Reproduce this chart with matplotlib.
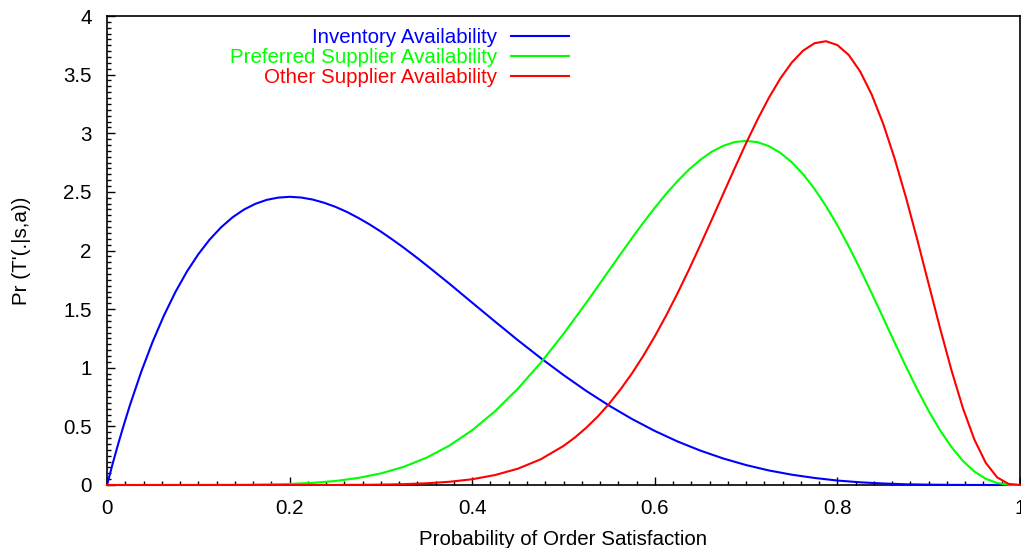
import matplotlib
matplotlib.use("Agg")
import matplotlib.pyplot as plt
from matplotlib.ticker import MultipleLocator, FormatStrFormatter

plt.rcParams['font.family'] = ['Liberation Sans', 'DejaVu Sans']

# inventory availability density
x_inventory = [0, 0.00625, 0.0125, 0.01875, 0.025,
               0.0375, 0.05, 0.0625, 0.075, 0.0875, 0.1, 0.1125, 0.125, 0.1375, 0.15,
               0.1625, 0.175, 0.1875, 0.2, 0.2125, 0.225, 0.2375, 0.25, 0.2625, 0.275,
               0.2875, 0.3, 0.3125, 0.325, 0.3375, 0.35,
               0.375, 0.4, 0.425, 0.45, 0.475, 0.5, 0.525, 0.55, 0.575, 0.6,
               0.625, 0.65, 0.675, 0.7, 0.725, 0.75, 0.775, 0.8, 0.825, 0.85,
               0.875, 0.9, 0.925, 0.95, 0.975, 1.0]
inventory = [0, 0.183, 0.357, 0.521, 0.678,
             0.966, 1.222, 1.448, 1.647, 1.820, 1.968, 2.094, 2.198, 2.283, 2.349,
             2.398, 2.432, 2.451, 2.458, 2.452, 2.435, 2.408, 2.373, 2.330, 2.279,
             2.223, 2.161, 2.094, 2.024, 1.950, 1.874,
             1.717, 1.555, 1.394, 1.235, 1.083, 0.938, 0.802, 0.677, 0.563, 0.461,
             0.371, 0.293, 0.226, 0.170, 0.124, 0.088, 0.060, 0.038, 0.023, 0.013,
             0.006, 0.003, 0.001, 0.0002, 0, 0]

# preferred supplier availability density
x_preferred = [0, 0.1, 0.15, 0.2,
               0.225, 0.25, 0.275, 0.3, 0.325, 0.35, 0.375, 0.4, 0.425, 0.45,
               0.475, 0.5, 0.525,
               0.5375, 0.55, 0.5625, 0.575, 0.5875, 0.6, 0.6125, 0.625, 0.6375, 0.65,
               0.6625, 0.675, 0.6875, 0.7, 0.7125, 0.725, 0.7375, 0.75, 0.7625, 0.775,
               0.7875, 0.8, 0.8125, 0.825, 0.8375, 0.85, 0.8625, 0.875, 0.8875, 0.9,
               0.9125, 0.925, 0.9375, 0.95, 0.9625, 0.975, 0.9875, 1.0]
preferred = [0, 0.0001, 0.0014, 0.0087,
             0.018, 0.034, 0.060, 0.099, 0.155, 0.233, 0.336, 0.467, 0.629, 0.821,
             1.042, 1.289, 1.555,
             1.693, 1.831, 1.970, 2.106, 2.238, 2.365, 2.484, 2.593, 2.691, 2.774,
             2.843, 2.893, 2.925, 2.935, 2.924, 2.890, 2.833, 2.753, 2.650, 2.525,
             2.379, 2.215, 2.034, 1.840, 1.637, 1.428, 1.218, 1.012, 0.815, 0.631,
             0.466, 0.323, 0.205, 0.115, 0.053, 0.017, 0.002, 0]

# other supplier availability density
x_other = [0, 0.25, 0.275, 0.3, 0.325, 0.35, 0.375, 0.4, 0.425, 0.45, 0.475, 0.5,
           0.5125, 0.525, 0.5375, 0.55, 0.5625, 0.575, 0.5875, 0.6, 0.6125, 0.625,
           0.6375, 0.65, 0.6625, 0.675, 0.6875, 0.7, 0.7125, 0.725, 0.7375, 0.75,
           0.7625, 0.775, 0.7875, 0.8, 0.8125, 0.825, 0.8375, 0.85, 0.8625, 0.875,
           0.8875, 0.9, 0.9125, 0.925, 0.9375, 0.95, 0.9625, 0.975, 0.9875, 1.0]
other = [0, 0.0006, 0.0015, 0.0033, 0.0072, 0.0145, 0.0275, 0.049, 0.085, 0.139, 0.219, 0.333,
         0.405, 0.489, 0.584, 0.693, 0.816, 0.952, 1.103, 1.268, 1.446, 1.637,
         1.838, 2.049, 2.265, 2.484, 2.702, 2.915, 3.117, 3.303, 3.467, 3.603,
         3.705, 3.768, 3.785, 3.752, 3.667, 3.526, 3.331, 3.084, 2.789, 2.455,
         2.092, 1.713, 1.336, 0.977, 0.655, 0.388, 0.189, 0.065, 0.009, 0]

W, H = 1021, 548
fig = plt.figure(figsize=(W / 100, H / 100), dpi=100)
ax = fig.add_axes([107 / W, 1 - 485 / H, (1020 - 107) / W, (485 - 16) / H])

series = [
    (x_inventory, inventory, '#0000ff', 'Inventory Availability'),
    (x_preferred, preferred, '#00ff00', 'Preferred Supplier Availability'),
    (x_other, other, '#ff0000', 'Other Supplier Availability'),
]
for xs, ys, c, lab in series:
    ax.plot(xs, ys, color=c, lw=1.5, label=lab, clip_on=False, zorder=3)

fs = 14.8
ax.set_xlim(0, 1)
ax.set_ylim(0, 4)
ax.xaxis.set_major_locator(MultipleLocator(0.2))
ax.xaxis.set_minor_locator(MultipleLocator(0.02))
ax.yaxis.set_major_locator(MultipleLocator(0.5))
ax.yaxis.set_minor_locator(MultipleLocator(0.05))
ax.xaxis.set_major_formatter(FormatStrFormatter('%g'))
ax.yaxis.set_major_formatter(FormatStrFormatter('%g'))
ax.tick_params(which='both', direction='in', top=False, right=False,
               labelsize=fs, width=1)
ax.tick_params(which='major', length=6)
ax.tick_params(which='minor', length=3)
ax.tick_params(axis='y', pad=11)
ax.tick_params(axis='x', pad=10)
for s in ax.spines.values():
    s.set_linewidth(1.2)

ax.set_xlabel('Probability of Order Satisfaction', fontsize=fs, labelpad=8.5)
ax.set_ylabel("Pr (T'(.|s,a))", fontsize=fs, labelpad=23)

leg = ax.legend(loc='upper right', bbox_to_anchor=(569 / W, 1 - 28 / H),
                bbox_transform=fig.transFigure, frameon=False,
                markerfirst=False, labelcolor='linecolor', fontsize=fs,
                handlelength=2.8, handletextpad=0.68, labelspacing=0.05,
                borderpad=0, borderaxespad=0)

fig.savefig('out.png', dpi=100)
